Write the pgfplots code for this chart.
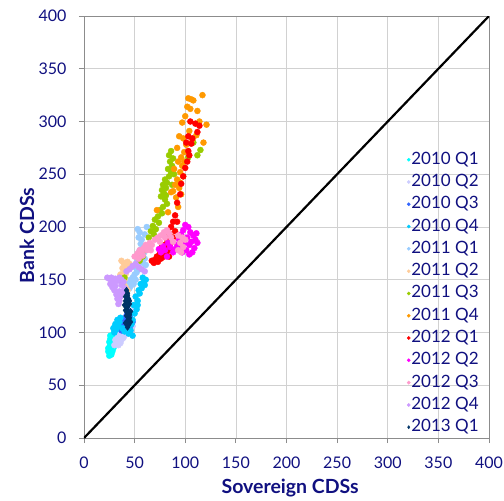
\documentclass[border=0pt]{standalone}
\usepackage{fontspec}
\setmainfont{Lato}
\usepackage{pgfplots}
\pgfplotsset{compat=1.18}

\definecolor{navy}{RGB}{16,16,128}
\definecolor{qA}{HTML}{00FFFF}
\definecolor{qB}{HTML}{CCCCFF}
\definecolor{qC}{HTML}{3366FF}
\definecolor{qD}{HTML}{00CCFF}
\definecolor{qE}{HTML}{99CCFF}
\definecolor{qF}{HTML}{FFCC99}
\definecolor{qG}{HTML}{99CC00}
\definecolor{qH}{HTML}{FF9900}
\definecolor{qI}{HTML}{FF0000}
\definecolor{qJ}{HTML}{FF00FF}
\definecolor{qK}{HTML}{FF99CC}
\definecolor{qL}{HTML}{CC99FF}
\definecolor{qM}{HTML}{003366}

\pgfplotsset{dot/.style={only marks, mark=*, mark size=3pt, color=#1}}

\begin{document}
\begin{tikzpicture}
\begin{axis}[
  at={(0,0)}, anchor=south west,
  scale only axis, width=405pt, height=422pt,
  xmin=0, xmax=400, ymin=0, ymax=400,
  xtick={0,50,...,400}, ytick={0,50,...,400},
  grid=major, grid style={black!18, line width=0.6pt},
  axis line style={black!45, line width=0.8pt},
  tick style={black!45, line width=0.8pt},
  tick align=outside, major tick length=5pt,
  xtick pos=bottom, ytick pos=left,
  /pgf/number format/assume math mode=true,
  tick label style={font=\fontsize{16}{18}\selectfont, text=navy},
  xticklabel style={yshift=-10pt},
  yticklabel style={xshift=-9pt},
  xlabel={Sovereign CDSs}, ylabel={Bank CDSs},
  label style={font=\fontsize{19.5}{22}\selectfont\bfseries, text=navy},
  xlabel style={at={(axis description cs:0.509,-0.119)}, anchor=center},
  ylabel style={at={(axis description cs:-0.141,0.48)}, anchor=center},
  legend style={at={(axis cs:316,274)}, anchor=north west, draw=none, fill=none,
    font=\fontsize{17}{20}\selectfont, text=navy, row sep=5.3pt,
    nodes={inner sep=1pt, text height=12pt, text depth=3pt},
    cells={anchor=west}},
  legend image code/.code={\draw[mark repeat=2,mark phase=2] plot coordinates {(0pt,0pt)(2pt,0pt)(7pt,0pt)};},
  legend image post style={mark size=1.6pt},
]
\addplot[black, line width=2.2pt, forget plot] coordinates {(0,0)(400,400)};

\addplot[dot=qA] coordinates {(25,78)(26,80)(24,82)(27,84)(25,86)(28,87)(26,89)(29,90)(27,92)(30,93)(28,95)(31,96)(29,98)(32,99)(30,101)(33,100)(31,103)(27,79)(24,85)(26,94)(30,88)(32,95)(28,82)(25,91)(33,97)(29,85)(31,91)(26,97)(30,105)(32,103)};
\addlegendentry{2010 Q1}
\addplot[dot=qB] coordinates {(30,88)(32,90)(34,92)(33,95)(36,96)(35,99)(38,97)(40,100)(37,93)(31,93)(42,102)(44,104)(46,101)(48,106)(50,122)(47,118)(34,88)(39,95)(41,98)(36,90)};
\addlegendentry{2010 Q2}
\addplot[dot=qC] coordinates {(38,104)(40,106)(42,108)(44,110)(43,113)(45,115)(46,112)(47,118)(41,111)(39,109)(44,120)(42,116)(46,107)(48,110)(37,102)(40,113)};
\addlegendentry{2010 Q3}
\addplot[dot=qD] coordinates {(30,100)(32,103)(34,106)(31,108)(35,110)(33,112)(36,114)(38,104)(29,104)(40,101)(44,99)(46,102)(48,97)(47,108)(50,118)(52,122)(49,126)(53,130)(51,134)(55,137)(54,140)(57,142)(56,146)(59,148)(58,152)(60,145)(61,150)(53,126)(48,112)};
\addlegendentry{2010 Q4}
\addplot[dot=qE] coordinates {(53,198)(55,195)(54,190)(57,188)(56,184)(58,180)(55,178)(59,175)(57,172)(60,170)(58,166)(61,164)(55,160)(52,157)(50,155)(48,152)(46,150)(44,148)(47,145)(45,142)(43,140)(49,146)(51,150)(62,200)(60,193)(56,176)(53,168)(50,162)};
\addlegendentry{2011 Q1}
\addplot[dot=qF] coordinates {(37,168)(39,166)(41,164)(38,161)(40,158)(42,160)(44,163)(36,155)(38,152)(40,150)(39,146)(41,143)(43,140)(40,138)(42,136)(37,149)(45,165)(43,167)(46,162)(41,155)};
\addlegendentry{2011 Q2}
\addplot[dot=qG] coordinates {(86,272)(84,268)(88,265)(85,262)(87,258)(83,255)(86,252)(84,248)(80,245)(82,242)(78,240)(81,237)(77,235)(79,232)(76,229)(80,226)(82,222)(78,219)(75,216)(77,213)(73,210)(70,207)(74,204)(68,201)(71,198)(66,196)(69,193)(64,190)(60,178)(58,172)(55,168)(40,152)(38,147)(108,280)(112,268)(103,266)(115,273)(89,250)(81,230)(87,240)};
\addlegendentry{2011 Q3}
\addplot[dot=qH] coordinates {(103,322)(106,321)(108,320)(117,325)(102,314)(105,312)(112,310)(100,305)(114,300)(97,299)(104,291)(121,297)(94,286)(98,284)(111,287)(92,275)(99,271)(96,266)(118,280)(93,262)(97,258)(95,252)(98,248)(92,245)(90,240)(94,237)(88,234)(96,231)(91,228)(86,233)(72,216)(83,214)(93,219)(101,278)(107,283)(89,255)(95,242)(99,262)};
\addlegendentry{2011 Q4}
\addplot[dot=qI] coordinates {(105,300)(110,298)(114,296)(103,286)(107,284)(101,280)(106,279)(103,272)(104,268)(102,262)(100,256)(96,241)(95,231)(92,223)(90,211)(88,205)(86,200)(90,196)(84,194)(88,190)(82,188)(85,184)(80,183)(83,180)(78,178)(81,176)(75,175)(79,172)(72,172)(76,170)(70,169)(73,167)(67,168)(69,166)(86,178)(84,172)(92,205)(98,248)(112,290)(77,181)};
\addlegendentry{2012 Q1}
\addplot[dot=qJ] coordinates {(100,202)(103,200)(98,197)(105,195)(108,192)(102,190)(110,188)(106,186)(112,185)(99,185)(104,183)(96,181)(109,180)(101,178)(107,176)(94,188)(92,183)(90,179)(88,176)(85,181)(83,185)(80,178)(78,182)(76,176)(74,179)(82,172)(96,193)(111,194)(97,176)(104,174)};
\addlegendentry{2012 Q2}
\addplot[dot=qK] coordinates {(50,172)(53,175)(55,178)(57,176)(59,180)(61,183)(63,181)(65,185)(67,183)(62,178)(58,173)(70,188)(73,190)(76,192)(79,195)(82,197)(84,194)(80,190)(93,178)(96,176)(98,181)(95,185)(100,188)(93,192)(97,190)(88,186)(66,178)(54,170)(86,190)(75,186)};
\addlegendentry{2012 Q3}
\addplot[dot=qL] coordinates {(23,152)(25,151)(27,152)(29,150)(31,151)(33,149)(35,152)(37,150)(39,148)(26,146)(28,143)(30,140)(32,136)(33,132)(35,130)(34,127)(36,134)(38,138)(40,142)(29,147)(45,160)(48,163)(51,165)(54,162)(57,160)(60,158)(42,158)(37,145)(31,144)(35,139)};
\addlegendentry{2012 Q4}
\addplot[only marks, mark=diamond*, mark size=3.2pt, color=qM] coordinates {(42,140)(43,137)(41,134)(44,132)(42,129)(45,127)(43,124)(41,121)(44,119)(42,116)(45,114)(43,111)(41,109)(44,107)(46,110)(40,126)(45,130)(43,135)(42,120)(44,113)(41,130)(46,120)(43,105)(45,117)};
\addlegendentry{2013 Q1}
\end{axis}
\pgfresetboundingbox
\path (-84pt,-63pt) rectangle (420pt,438pt);
\end{tikzpicture}
\end{document}
